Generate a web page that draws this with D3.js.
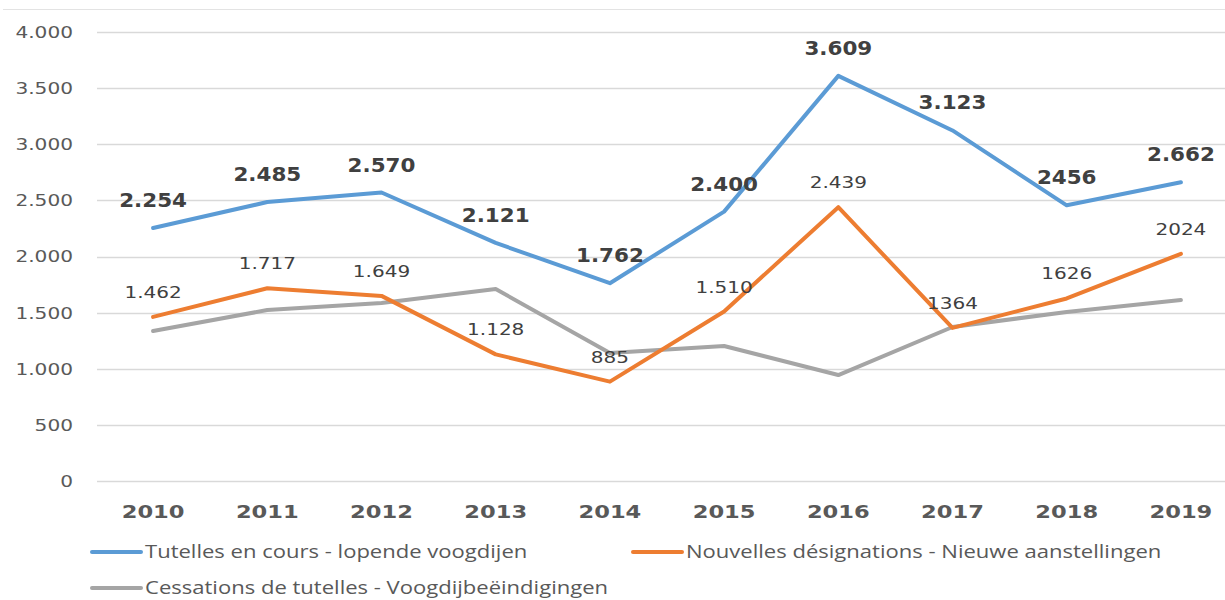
<!DOCTYPE html>
<html>
<head>
<meta charset="utf-8">
<script src="https://cdn.jsdelivr.net/npm/d3@7"></script>
<style>
  body { margin: 0; background: #fff; }
  svg { display: block; }
</style>
</head>
<body>
<div id="chart"></div>
<script>
// data
const years = ['2010', '2011', '2012', '2013', '2014', '2015', '2016', '2017', '2018', '2019'];
const tutelles = [2254, 2485, 2570, 2121, 1762, 2400, 3609, 3123, 2456, 2662];
const tutellesLabels = ['2.254', '2.485', '2.570', '2.121', '1.762', '2.400', '3.609', '3.123', '2456', '2.662'];
const nouvelles = [1462, 1717, 1649, 1128, 885, 1510, 2439, 1364, 1626, 2024];
const nouvellesLabels = ['1.462', '1.717', '1.649', '1.128', '885', '1.510', '2.439', '1364', '1626', '2024'];
const cessations = [1336, 1523, 1586, 1710, 1140, 1203, 944, 1372, 1506, 1612];
const yTicks = [0, 500, 1000, 1500, 2000, 2500, 3000, 3500, 4000];
const yTickLabels = ['0', '500', '1.000', '1.500', '2.000', '2.500', '3.000', '3.500', '4.000'];

const width = 1225, height = 600;
// the original text is a bit stretched sideways
const stretch = 1.22;
const numFont = 'DejaVu Sans, Verdana, sans-serif';

const svg = d3.select('#chart')
    .append('svg')
        .attr('width', width)
        .attr('height', height);

// scales
const x = d3.scaleBand()
    .domain(years)
    .range([96, 1238]);
const y = d3.scaleLinear()
    .domain([0, 4000])
    .range([481, 32]);
const cx = d => x(d) + x.bandwidth() / 2;
const place = (px, py, sx) => 'translate(' + px + ',' + py + ') scale(' + sx + ',1)';

// top border line
svg.append('line')
    .attr('x1', 3).attr('x2', width)
    .attr('y1', 9.5).attr('y2', 9.5)
    .attr('stroke', '#e3e3e3')
    .attr('stroke-width', 1);

// gridlines
svg.append('g').selectAll('line')
    .data(yTicks)
    .enter().append('line')
        .attr('x1', 97).attr('x2', width)
        .attr('y1', d => Math.round(y(d)) + 0.5)
        .attr('y2', d => Math.round(y(d)) + 0.5)
        .attr('stroke', '#d9d9d9')
        .attr('stroke-width', 1.5);

// y tick labels
svg.append('g').selectAll('text')
    .data(yTicks)
    .enter().append('text')
        .attr('transform', d => place(73, y(d), stretch))
        .attr('dy', '0.36em')
        .attr('text-anchor', 'end')
        .style('font-family', numFont)
        .style('font-size', '16.5px')
        .attr('fill', '#595959')
        .text((d, i) => yTickLabels[i]);

// x tick labels
svg.append('g').selectAll('text')
    .data(years)
    .enter().append('text')
        .attr('transform', d => place(cx(d), 518, stretch))
        .attr('text-anchor', 'middle')
        .style('font-family', numFont)
        .style('font-size', '18.5px')
        .style('font-weight', 'bold')
        .attr('fill', '#595959')
        .text(d => d);

const series = [
    { name: 'Cessations de tutelles - Voogdijbeëindigingen', values: cessations, color: '#a5a5a5' },
    { name: 'Nouvelles désignations - Nieuwe aanstellingen', values: nouvelles, color: '#ed7d31' },
    { name: 'Tutelles en cours - lopende voogdijen', values: tutelles, color: '#5b9bd5' }
];

const line = d3.line()
    .x((d, i) => cx(years[i]))
    .y(d => y(d));

svg.append('g').selectAll('path')
    .data(series)
    .enter().append('path')
        .attr('d', d => line(d.values))
        .attr('fill', 'none')
        .attr('stroke', d => d.color)
        .attr('stroke-width', 4)
        .attr('stroke-linejoin', 'round')
        .attr('stroke-linecap', 'round');

// data labels, orange (regular)
svg.append('g').selectAll('text')
    .data(nouvelles)
    .enter().append('text')
        .attr('transform', (d, i) => place(cx(years[i]), y(d) - 19, 1.25))
        .attr('text-anchor', 'middle')
        .style('font-family', numFont)
        .style('font-size', '16px')
        .attr('fill', '#404040')
        .text((d, i) => nouvellesLabels[i]);

// data labels, blue (bold)
svg.append('g').selectAll('text')
    .data(tutelles)
    .enter().append('text')
        .attr('transform', (d, i) => place(cx(years[i]), y(d) - 21, 1.1))
        .attr('text-anchor', 'middle')
        .style('font-family', numFont)
        .style('font-size', '19.5px')
        .style('font-weight', 'bold')
        .attr('fill', '#404040')
        .text((d, i) => tutellesLabels[i]);

// legend
const legendItems = [
    { s: series[2], x: 91, y: 552 },
    { s: series[1], x: 632, y: 552 },
    { s: series[0], x: 91, y: 588 }
];
const legendG = svg.append('g').selectAll('g')
    .data(legendItems)
    .enter().append('g')
        .attr('transform', d => 'translate(' + d.x + ',' + d.y + ')');
legendG.append('line')
    .attr('x1', 1).attr('x2', 50)
    .attr('stroke', d => d.s.color)
    .attr('stroke-width', 4)
    .attr('stroke-linecap', 'round');
legendG.append('text')
    .attr('transform', place(54, 0, 1.26))
    .attr('dy', '0.35em')
    .style('font-family', 'Open Sans, Noto Sans, sans-serif')
    .style('font-size', '17.5px')
    .attr('fill', '#595959')
    .text(d => d.s.name);
</script>
</body>
</html>
